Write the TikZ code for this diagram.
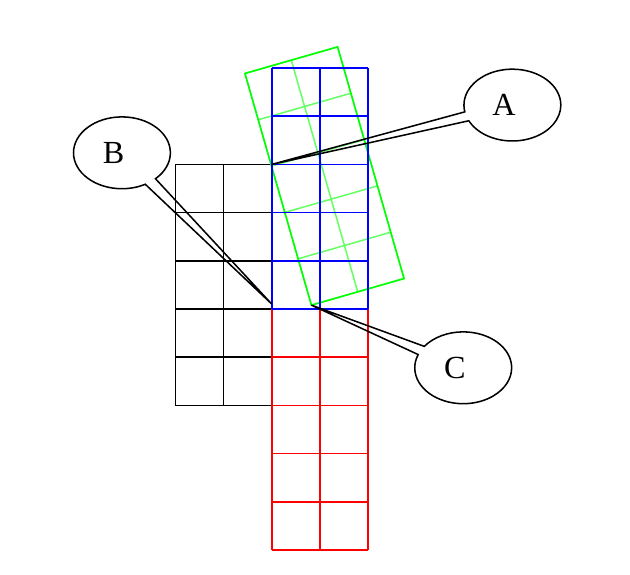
\documentclass[tikz,border=0pt]{standalone}
\usepackage{fontspec}
\setmainfont{Liberation Serif}
\usetikzlibrary{shapes.callouts}
\tikzset{
  bubble/.style={ellipse callout, draw, minimum width=2.01cm, minimum height=1.49cm,
    font=\fontsize{19}{22}\selectfont, execute at end node={\hspace{0.35cm}}},
}
\begin{document}
\begin{tikzpicture}[line width=0.9pt]
                \useasboundingbox (-5.64,-5.50) rectangle (7.43,6.41);
                % left block and lower block
                \draw (-2,-2) grid (0,3);
                \draw [red] (0,-5) grid (2,0);
                % turned copy
                \begin{scope}[shift={(0.82,0.08)}, rotate=16]
                    \draw [green!60] (0,0) grid (2,5);
                    \draw [green] (0,0) rectangle (2,5);
                    \coordinate (turnbase) at (0,0);
                \end{scope}
                \draw [blue] (0,0) grid (2,5);
                \coordinate (topjoin) at (0,3);
                \coordinate (lowjoin) at (0,0.1);
                % labels
                \node [bubble, callout absolute pointer={(topjoin)}] (calloutA) at (4.99,4.23) {A};
                \node [bubble, callout absolute pointer={(lowjoin)}] (calloutB) at (-3.11,3.24) {B};
                \node [bubble, callout absolute pointer={(turnbase)}] (calloutC) at (3.97,-1.22) {C};
            \end{tikzpicture}
\end{document}
